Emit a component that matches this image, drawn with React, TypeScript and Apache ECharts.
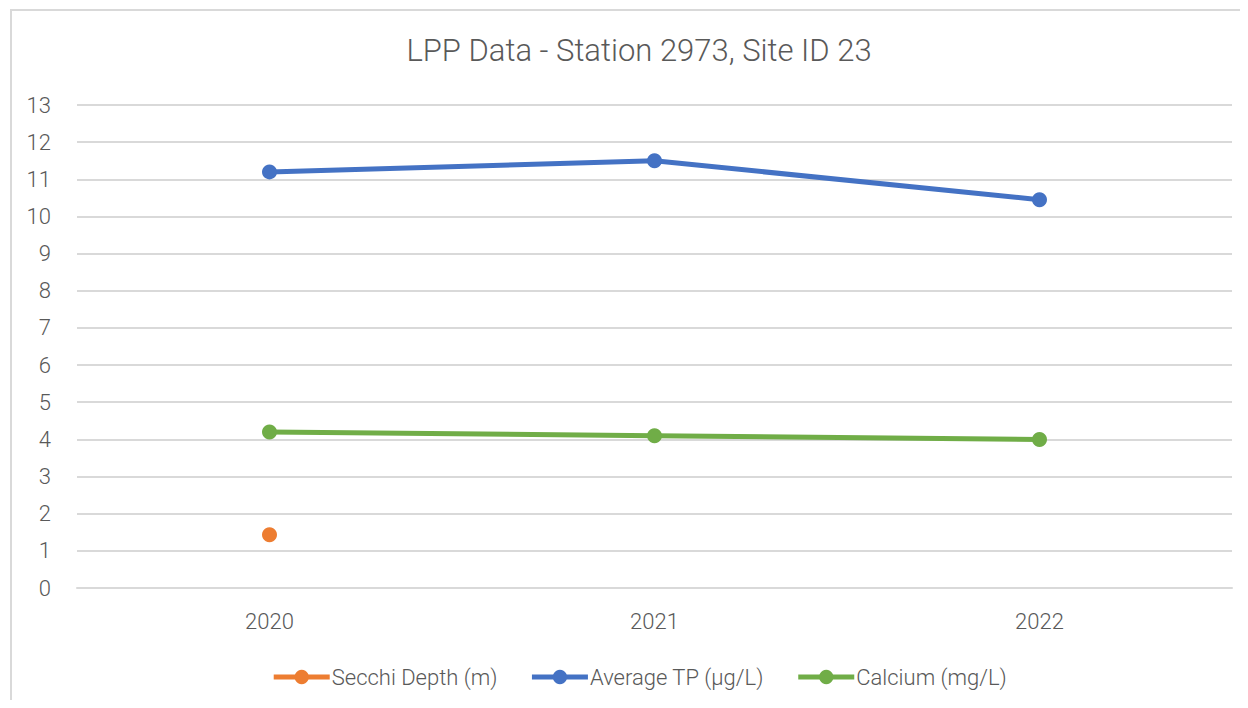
import React, { useEffect, useRef } from "react";
import * as echarts from "echarts";

const years = ["2020", "2021", "2022"];
const secchiDepth: (number | string)[] = [1.43, "-", "-"];
const averageTP = [11.2, 11.5, 10.45];
const calcium = [4.2, 4.1, 4.0];

const FONT = "Roboto, 'Open Sans', sans-serif";
const TEXT = "#595959";

export default function App() {
  const ref = useRef<HTMLDivElement>(null);
  useEffect(() => {
    if (!ref.current) return;
    const chart = echarts.init(ref.current, undefined, { renderer: "svg" });
    const lineSeries = (name: string, data: any[], color: string) => ({
      name,
      type: "line",
      data,
      symbol: "circle",
      symbolSize: 15,
      showSymbol: true,
      lineStyle: { color, width: 5 },
      itemStyle: { color },
      connectNulls: false,
    });
    chart.setOption({
      animation: false,
      textStyle: { fontFamily: FONT },
      title: {
        text: "LPP Data - Station 2973, Site ID 23",
        left: "center",
        top: 22,
        textStyle: { fontFamily: FONT, fontSize: 31, fontWeight: 300, color: TEXT },
      },
      grid: { left: 69, right: 38, top: 97, bottom: 112, containLabel: false },
      xAxis: {
        type: "category",
        data: years,
        boundaryGap: true,
        axisLine: { show: true, lineStyle: { color: "#d9d9d9", width: 2 } },
        axisTick: { show: false },
        axisLabel: { color: TEXT, fontSize: 22, fontWeight: 300, fontFamily: FONT, margin: 22 },
      },
      yAxis: {
        type: "value",
        min: 0,
        max: 13,
        interval: 1,
        axisLine: { show: false },
        axisTick: { show: false },
        axisLabel: { color: TEXT, fontSize: 22, fontWeight: 300, fontFamily: FONT, margin: 26 },
        splitLine: { lineStyle: { color: "#d9d9d9", width: 2 } },
      },
      legend: {
        bottom: 7,
        left: "center",
        itemWidth: 56,
        itemHeight: 18,
        itemGap: 32,
        lineStyle: { width: 5 },
        textStyle: { color: TEXT, fontSize: 22, fontWeight: 300, fontFamily: FONT, padding: [0, 0, 0, -3] },
        data: ["Secchi Depth (m)", "Average TP (µg/L)", "Calcium (mg/L)"],
      },
      series: [
        lineSeries("Secchi Depth (m)", secchiDepth, "#ED7D31"),
        lineSeries("Average TP (µg/L)", averageTP, "#4472C4"),
        lineSeries("Calcium (mg/L)", calcium, "#70AD47"),
      ],
    });
    return () => chart.dispose();
  }, []);
  return (
    <div style={{ position: "relative", width: 1232, height: 692, overflow: "hidden", background: "#fff" }}>
      <div
        style={{
          position: "absolute",
          left: 2,
          top: 1,
          width: 2000,
          height: 2000,
          borderTop: "2px solid #d9d9d9",
          borderLeft: "2px solid #d9d9d9",
          pointerEvents: "none",
        }}
      />
      <div ref={ref} style={{ position: "absolute", left: 0, top: 0, width: 1262, height: 692 }} />
    </div>
  );
}
